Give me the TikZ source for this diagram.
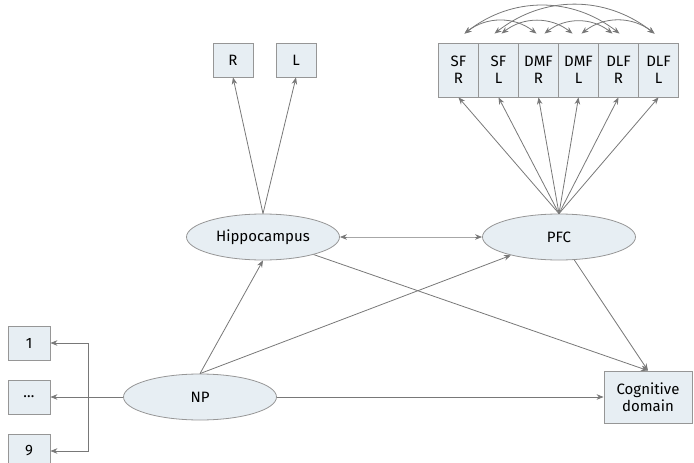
\documentclass[tikz,border=0pt]{standalone}
\usepackage{fontspec}
\setmainfont{Fira Sans}
\usetikzlibrary{arrows.meta,shapes.geometric}
\definecolor{boxfill}{RGB}{231,238,243}
\definecolor{edgegray}{RGB}{150,150,150}
\definecolor{arrowgray}{RGB}{120,120,120}
\begin{document}
\begin{tikzpicture}[x=1pt,y=-1pt,
    font=\fontsize{15}{17}\selectfont,
    box/.style={draw=edgegray,fill=boxfill,line width=0.8pt,inner sep=0pt,align=center},
    smallbox/.style={box,minimum width=40pt,minimum height=34pt},
    regionbox/.style={box,minimum width=40pt,minimum height=54pt},
    latent/.style={box,ellipse,minimum width=153pt,minimum height=46pt},
    effect/.style={draw=arrowgray,line width=0.8pt,-{Stealth[length=7pt,width=5.5pt]}},
    twoway/.style={effect,{Stealth[length=7pt,width=5.5pt]}-{Stealth[length=7pt,width=5.5pt]}},
    covar/.style={twoway,bend left=38}]
      \useasboundingbox (0,0) rectangle (694,463);
      \draw
        (233,60) node[smallbox] (R){R}
        (296,60) node[smallbox] (L){L}
        (458.5,70) node[regionbox] (SFR){SF\\R}
        (498.5,70) node[regionbox] (SFL){SF\\L}
        (538.5,70) node[regionbox] (DMFR){DMF\\R}
        (578.5,70) node[regionbox] (DMFL){DMF\\L}
        (618.5,70) node[regionbox] (DLFR){DLF\\R}
        (658.5,70) node[regionbox] (DLFL){DLF\\L}
        (263,237) node[latent] (hippo){Hippocampus}
        (559,237) node[latent] (pfc){PFC}
        (200,397) node[latent] (np){NP}
        (648,397) node[box,minimum width=88pt,minimum height=52pt] (cog){Cognitive\\domain}
        (29,343) node[smallbox,minimum width=42pt] (n1){1}
        (29,397) node[smallbox,minimum width=42pt] (ndots){\ldots}
        (29,451) node[smallbox,minimum width=42pt] (n9){9}
        (88,397) coordinate (split);
      \begin{scope}[effect]
        \draw (hippo.north) to (R.south);
        \draw (hippo.north) to (L.south);
        \draw (pfc.north) to (SFR.south);
        \draw (pfc.north) to (SFL.south);
        \draw (pfc.north) to (DMFR.south);
        \draw (pfc.north) to (DMFL.south);
        \draw (pfc.north) to (DLFR.south);
        \draw (pfc.north) to (DLFL.south);
        \draw (np.north) to (hippo.south);
        \draw (np.north) to (pfc);
        \draw (hippo) to (cog.north);
        \draw (pfc) to (cog.north);
        \draw (np) to (cog);
        \draw (np) to (ndots);
        \draw (split) |- (n1);
        \draw (split) |- (n9);
      \end{scope}
      \begin{scope}[covar]
        \draw[twoway] (hippo) to[bend left=0] (pfc);
        \draw ([xshift=6pt,yshift=9pt]SFR.north) to ([xshift=-2pt,yshift=9pt]DMFR.north);
        \draw ([xshift=3pt,yshift=9pt]SFL.north) to ([xshift=-6pt,yshift=9pt]DMFL.north);
        \draw ([xshift=6pt,yshift=9pt]DMFR.north) to ([xshift=-6pt,yshift=9pt]DLFR.north);
        \draw ([xshift=3pt,yshift=9pt]DMFL.north) to ([xshift=-4pt,yshift=9pt]DLFL.north);
        \draw ([xshift=6pt,yshift=9pt]SFR.north) to ([xshift=1pt,yshift=9pt]DLFR.north);
        \draw ([xshift=-4pt,yshift=9pt]SFL.north) to ([xshift=-4pt,yshift=9pt]DLFL.north);
      \end{scope}
    \end{tikzpicture}
\end{document}
